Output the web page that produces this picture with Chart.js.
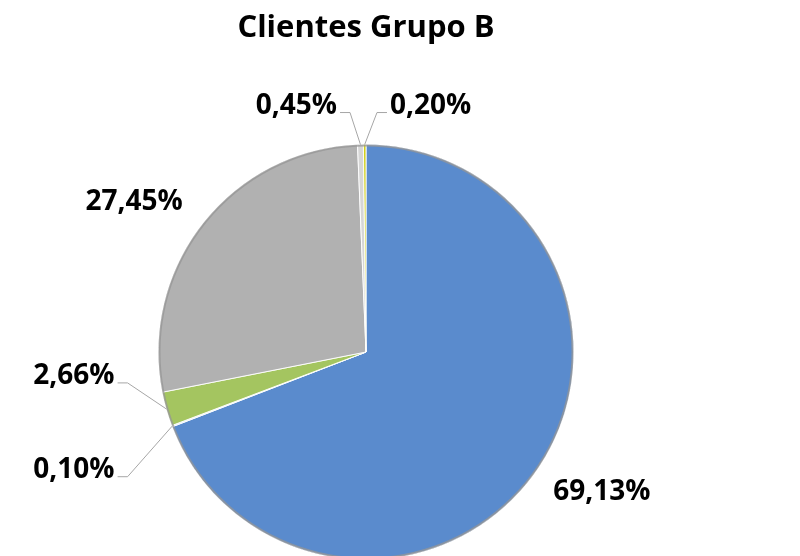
<!DOCTYPE html>
<html>
<head>
<meta charset="utf-8">
<script src="https://cdn.jsdelivr.net/npm/chart.js@4/dist/chart.umd.min.js"></script>
<style>
  html, body { margin: 0; padding: 0; background: #ffffff; overflow: hidden; }
  #wrap { width: 800px; height: 560px; }
</style>
</head>
<body>
<div id="wrap"><canvas id="c" width="800" height="560"></canvas></div>
<script>
const titleText = "Clientes Grupo B";
const categories = ["A", "B", "C", "D", "E", "F"];
const values = [69.13, 0.10, 2.66, 27.45, 0.45, 0.20];
const labelTexts = ["69,13%", "0,10%", "2,66%", "27,45%", "0,45%", "0,20%"];
const sliceColors = ["#5A8BCD", "#DDE8F5", "#A4C560", "#B1B1B1", "#D6D6D6", "#CFCF1E"];

// label placement (in radius units, relative to pie centre); leader = elbow of leader line
const labelPlacement = [
  { at: [1.137, 0.673], leader: false },
  { at: [-1.149, 0.601], leader: true, side: -1 },
  { at: [-1.149, 0.149], leader: true, side: -1 },
  { at: [-1.118, -0.724], leader: false },
  { at: [-0.077, -1.154], leader: true, side: -1 },
  { at: [0.053, -1.154], leader: true, side: 1 }
];

const labelPlugin = {
  id: 'pctLabels',
  afterDatasetsDraw(chart) {
    const ctx = chart.ctx;
    const meta = chart.getDatasetMeta(0);
    const a0 = meta.data[0];
    const p0 = a0.getProps(['x', 'y', 'outerRadius'], true);
    ctx.save();
    ctx.beginPath();
    ctx.arc(p0.x, p0.y, p0.outerRadius - 1, 0, Math.PI * 2);
    ctx.strokeStyle = 'rgba(150,150,150,0.75)';
    ctx.lineWidth = 2;
    ctx.stroke();
    ctx.restore();

    ctx.save();
    ctx.font = 'bold 28px "Open Sans"';
    ctx.fillStyle = '#000000';
    meta.data.forEach((arc, i) => {
      const p = arc.getProps(['x', 'y', 'startAngle', 'endAngle', 'outerRadius'], true);
      const r = p.outerRadius;
      const pl = labelPlacement[i];
      const lx = p.x + pl.at[0] * r;
      const ly = p.y + pl.at[1] * r;
      if (pl.leader) {
        const mid = (p.startAngle + p.endAngle) / 2;
        const ax = p.x + Math.cos(mid) * r;
        const ay = p.y + Math.sin(mid) * r;
        const hx = lx + pl.side * 10;
        ctx.beginPath();
        ctx.moveTo(ax, ay);
        ctx.lineTo(lx, ly);
        ctx.lineTo(hx, ly);
        ctx.strokeStyle = '#A6A6A6';
        ctx.lineWidth = 1;
        ctx.stroke();
        ctx.textAlign = pl.side < 0 ? 'right' : 'left';
        ctx.textBaseline = 'alphabetic';
        ctx.fillText(labelTexts[i], hx + pl.side * 3, ly + 1);
      } else {
        ctx.textAlign = 'center';
        ctx.textBaseline = 'middle';
        ctx.fillText(labelTexts[i], lx, ly);
      }
    });
    ctx.restore();
  }
};

new Chart(document.getElementById('c'), {
  type: 'pie',
  data: {
    labels: categories,
    datasets: [{
      data: values,
      backgroundColor: sliceColors,
      borderColor: 'rgba(255,255,255,0.9)',
      borderWidth: 1
    }]
  },
  options: {
    responsive: false,
    animation: false,
    layout: { padding: { top: 0, bottom: 0, left: 0, right: 68 } },
    plugins: {
      legend: { display: false },
      tooltip: { enabled: false },
      title: {
        display: true,
        text: titleText,
        color: '#000000',
        font: { family: 'Open Sans', size: 31, weight: 'bold', lineHeight: 1.2 },
        padding: { top: 10, bottom: 96.8 }
      }
    }
  },
  plugins: [labelPlugin]
});
</script>
</body>
</html>
